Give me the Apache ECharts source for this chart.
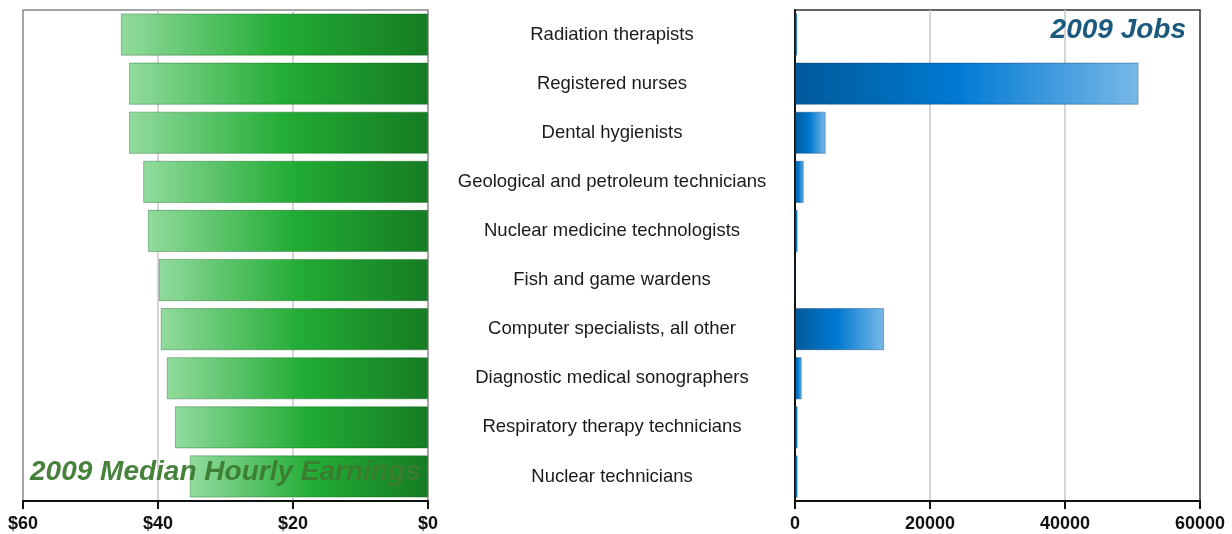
<!DOCTYPE html>
<html>
<head>
<meta charset="utf-8">
<script src="https://cdn.jsdelivr.net/npm/echarts@6/dist/echarts.min.js"></script>
<style>
html,body{margin:0;padding:0;background:#fff;}
#chart{width:1232px;height:534px;}
</style>
</head>
<body>
<div id="chart"></div>
<script>
const categories = ['Radiation therapists','Registered nurses','Dental hygienists','Geological and petroleum technicians','Nuclear medicine technologists','Fish and game wardens','Computer specialists, all other','Diagnostic medical sonographers','Respiratory therapy technicians','Nuclear technicians'];
const earnings = [45.5, 44.3, 44.3, 42.2, 41.5, 39.9, 39.6, 38.7, 37.5, 35.3];
const jobs = [350, 50900, 4550, 1300, 400, 0, 13200, 1000, 400, 400];
const earningsTicks = [0, 20, 40, 60];
const jobsTicks = [0, 20000, 40000, 60000];

const FONT = '"Liberation Sans", Arial, Helvetica, sans-serif';
const chart = echarts.init(document.getElementById('chart'));

const greenGrad = new echarts.graphic.LinearGradient(0,0,1,0,[
  {offset:0,color:'#92db9d'},{offset:0.52,color:'#22ac35'},{offset:1,color:'#167c22'}]);
const blueGrad = new echarts.graphic.LinearGradient(0,0,1,0,[
  {offset:0,color:'#005a9a'},{offset:0.47,color:'#0079d2'},{offset:1,color:'#78b9e7'}]);

const tickLabel = {fontFamily:FONT,fontSize:18,fontWeight:'bold',color:'#111',margin:14};

chart.setOption({
  animation:false,
  backgroundColor:'#fff',
  title:[
    {text:'2009 Median Hourly Earnings',left:25,top:453,
     textStyle:{fontFamily:FONT,fontSize:28,fontStyle:'italic',fontWeight:'bold',color:'#3c7b30',opacity:0.95}},
    {text:'2009 Jobs',right:41,top:11,
     textStyle:{fontFamily:FONT,fontSize:28,fontStyle:'italic',fontWeight:'bold',color:'#1b5a7e'}}
  ],
  grid:[
    {left:23,right:804,top:10,bottom:33,show:true,borderColor:'#888',borderWidth:1.5,containLabel:false},
    {left:795,right:32,top:10,bottom:33,show:true,borderColor:'#333',borderWidth:1.5,containLabel:false}
  ],
  xAxis:[
    {gridIndex:0,type:'value',inverse:true,min:earningsTicks[0],max:earningsTicks[earningsTicks.length-1],interval:20,
     axisLine:{show:true,lineStyle:{color:'#111',width:2}},
     axisTick:{show:true,length:8,lineStyle:{color:'#111',width:2}},
     axisLabel:Object.assign({formatter:v=>'$'+v},tickLabel),
     splitLine:{show:true,showMinLine:false,showMaxLine:false,lineStyle:{color:'#c8c8c8',width:1.5}}},
    {gridIndex:1,type:'value',min:jobsTicks[0],max:jobsTicks[jobsTicks.length-1],interval:20000,
     axisLine:{show:true,lineStyle:{color:'#111',width:2}},
     axisTick:{show:true,length:8,lineStyle:{color:'#111',width:2}},
     axisLabel:Object.assign({formatter:v=>String(v)},tickLabel),
     splitLine:{show:true,showMinLine:false,showMaxLine:false,lineStyle:{color:'#c8c8c8',width:1.5}}}
  ],
  yAxis:[
    {gridIndex:0,type:'category',data:categories,inverse:true,position:'right',
     axisLine:{show:false},axisTick:{show:false},
     axisLabel:{show:true,align:'center',margin:184,padding:[7,0,0,0],fontFamily:FONT,fontSize:18.5,color:'#1a1a1a'}},
    {gridIndex:1,type:'category',data:categories,inverse:true,
     axisLine:{show:true,lineStyle:{color:'#111',width:2}},axisTick:{show:false},
     axisLabel:{show:false}}
  ],
  series:[
    {type:'bar',xAxisIndex:0,yAxisIndex:0,data:earnings,barWidth:'86%',
     itemStyle:{color:greenGrad,borderColor:'rgba(10,80,20,0.35)',borderWidth:1}},
    {type:'bar',xAxisIndex:1,yAxisIndex:1,data:jobs,barWidth:'86%',
     itemStyle:{color:blueGrad,borderColor:'rgba(0,40,90,0.35)',borderWidth:1}}
  ]
});
</script>
</body>
</html>
